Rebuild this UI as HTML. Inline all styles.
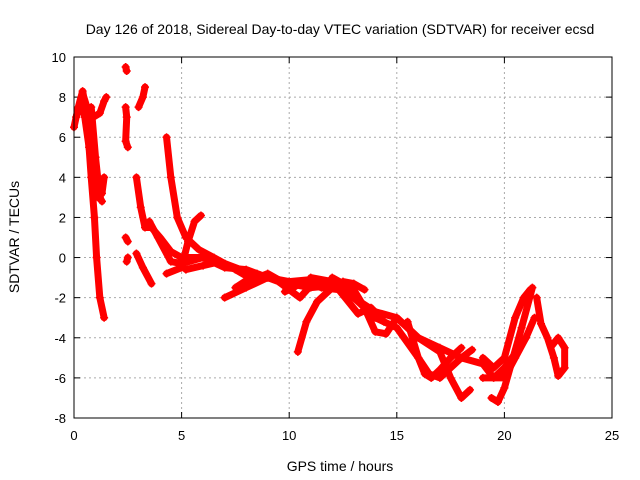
<!DOCTYPE html>
<html><head><meta charset="utf-8">
<style>
body{margin:0;background:#fff;}
svg{display:block;font-family:"Liberation Sans",sans-serif;}
</style></head>
<body>
<svg id="chart" width="640" height="480" viewBox="0 0 640 480">
<rect x="0" y="0" width="640" height="480" fill="#fff"/>
<text x="340" y="34" text-anchor="middle" font-size="14">Day 126 of 2018, Sidereal Day-to-day VTEC variation (SDTVAR) for receiver ecsd</text>
<text x="340" y="471" text-anchor="middle" font-size="14">GPS time / hours</text>
<text transform="translate(19,237) rotate(-90)" text-anchor="middle" font-size="14">SDTVAR / TECUs</text>
<g id="grid"></g><g id="ticks"></g><g id="series"></g>
<rect x="74" y="57" width="538" height="361" fill="none" stroke="#000" stroke-width="1"/>
</svg>
<script>
const xTicks=[0,5,10,15,20,25];
const yTicks=[-8,-6,-4,-2,0,2,4,6,8,10];
const track1=[[0,6.5],[0.2,7.5],[0.4,8.3],[0.6,7],[0.8,4],[0.95,2],[1.05,0],[1.2,-2],[1.4,-3]];
const track2=[[0.1,7],[0.3,7.8],[0.5,7],[0.7,5.5],[0.9,4],[1.1,3],[1.3,3.2],[1.4,4]];
const track3=[[0.4,8.2],[0.6,7.5],[0.9,7],[1.2,7.2],[1.4,7.8],[1.5,8]];
const track4=[[0.8,7.5],[1.0,5],[1.2,3],[1.3,2.8]];
const track5=[[2.4,9.5],[2.45,9.3]];
const track6=[[2.4,7.5],[2.45,7],[2.4,5.8],[2.5,5.5]];
const track7=[[2.4,1],[2.5,0.8]];
const track8=[[2.5,0],[2.45,-0.2]];
const track9=[[3.0,7.5],[3.2,8],[3.3,8.5]];
const track10=[[2.9,4],[3.1,2.5],[3.3,1.5],[3.6,1.5],[4,1],[4.5,0.3],[5,0],[6,0],[7,-0.3],[8,-0.7],[9,-1]];
const track11=[[2.9,0.2],[3.2,-0.5],[3.6,-1.3]];
const track12=[[4.3,6],[4.5,4],[4.8,2],[5.2,1],[5.8,0.4],[6.5,0],[7,-0.3],[8,-0.8],[8.5,-1]];
const track13=[[4.3,-0.8],[5,-0.5],[5.3,0.8],[5.6,1.8],[5.9,2.1]];
const track14=[[3.5,1.8],[3.9,1],[4.5,-0.2],[5,-0.3],[6,0],[7,-0.5],[8,-0.6],[9,-1],[10,-1.3],[11,-1.5],[12,-1.4],[13,-2],[14,-2.7],[15,-3],[16,-4],[17,-4.5],[18,-5],[19,-5.3],[19.5,-6],[20,-5.5],[20.7,-4.5],[21,-4]];
const track15=[[7,-2],[8,-1.5],[9,-1],[10,-1.2],[11,-1.1],[12,-1.3],[13,-2],[14,-3],[15,-3.5],[16,-5],[16.5,-5.8],[17,-6],[17.5,-5.5],[18,-5],[18.5,-4.6]];
const track16=[[10.4,-4.7],[10.8,-3.2],[11.3,-2.2],[12,-1.5],[12.5,-1.2],[13,-1.3],[13.5,-1.6]];
const track17=[[12,-1],[13,-1.6],[13.5,-2.5],[14,-3.7],[14.5,-3.8],[15,-3],[15.5,-3.5],[16,-4],[17,-4.7],[17.5,-6],[18,-7],[18.4,-6.6]];
const track18=[[15.5,-3.2],[16,-5],[16.3,-5.8],[16.6,-6],[17,-5.6],[17.5,-5],[18,-4.5]];
const track19=[[19.4,-7],[19.7,-7.2],[20,-6.5],[20.4,-5],[20.8,-3.5],[21.3,-1.5]];
const track20=[[19,-5],[19.5,-5.5],[20,-5],[20.5,-3],[20.9,-2],[21.2,-1.6]];
const track21=[[19,-6],[20,-6],[20.5,-5],[21,-4],[21.4,-3]];
const track22=[[21.5,-2],[21.7,-3.3],[22,-4],[22.3,-5],[22.5,-5.9],[22.8,-5.5],[22.8,-4.5],[22.5,-4],[22.2,-4.4]];
const track23=[[7.5,-1.5],[8.5,-0.8],[9.5,-1.2],[10.5,-2],[11,-1.4]];
const track24=[[5.2,-0.6],[6,-0.4],[6.8,-0.2],[7.5,-0.6],[8.3,-1.1],[9,-0.8],[10,-1.4]];
const track25=[[11,-1],[12,-1.2],[12.6,-2],[13.2,-2.8],[13.8,-2.5],[14.4,-3.2]];
const track26=[[9.8,-1.7],[10.2,-1.5],[10.6,-1.2],[11.5,-1.5],[12.3,-1.6]];
const tracks=[track1,track2,track3,track4,track5,track6,track7,track8,track9,track10,track11,track12,track13,track14,track15,track16,track17,track18,track19,track20,track21,track22,track23,track24,track25,track26];

const X0=74,X1=612,Y0=418,Y1=57,XMIN=0,XMAX=25,YMIN=-8,YMAX=10;
const sx=v=>X0+(v-XMIN)/(XMAX-XMIN)*(X1-X0);
const sy=v=>Y0-(v-YMIN)/(YMAX-YMIN)*(Y0-Y1);
const NS="http://www.w3.org/2000/svg";
const mk=(t,a,p)=>{const e=document.createElementNS(NS,t);for(const k in a)e.setAttribute(k,a[k]);p.appendChild(e);return e;};
const grid=document.getElementById('grid'),ticks=document.getElementById('ticks'),series=document.getElementById('series');
xTicks.forEach(t=>{
  const x=sx(t);
  if(t>XMIN&&t<XMAX){const g=mk('line',{x1:x,x2:x,y1:Y1,y2:Y0,stroke:'#aaa','stroke-dasharray':'2,3'},grid);
  
  }
  mk('line',{x1:x,x2:x,y1:Y0,y2:Y0-6,stroke:'#000'},ticks);
  mk('line',{x1:x,x2:x,y1:Y1,y2:Y1+6,stroke:'#000'},ticks);
  const l=mk('text',{x:x,y:Y0+22,'text-anchor':'middle','font-size':13},ticks);
  l.textContent=t;
  
  
});
yTicks.forEach(t=>{
  const y=sy(t);
  if(t>YMIN&&t<YMAX){const g=mk('line',{x1:X0,x2:X1,y1:y,y2:y,stroke:'#aaa','stroke-dasharray':'2,3'},grid);
  
  }
  mk('line',{x1:X0,x2:X0+6,y1:y,y2:y,stroke:'#000'},ticks);
  mk('line',{x1:X1,x2:X1-6,y1:y,y2:y,stroke:'#000'},ticks);
  const l=mk('text',{x:X0-8,y:y+5,'text-anchor':'end','font-size':13},ticks);
  l.textContent=t;
  
  
});
tracks.forEach((tr,i)=>{
  const pl=mk('polyline',{points:tr.map(p=>sx(p[0])+','+sy(p[1])).join(' '),fill:'none',stroke:'#f00','stroke-width':7,'stroke-linejoin':'round','stroke-linecap':'round'},series);
  
  
  tr.forEach(p=>{
    const x=sx(p[0]),y=sy(p[1]);
    const m=mk('path',{d:`M${x-4},${y}H${x+4}M${x},${y-4}V${y+4}`,stroke:'#f00','stroke-width':1.5},series);
    
    
  });
});
</script>
</body></html>
